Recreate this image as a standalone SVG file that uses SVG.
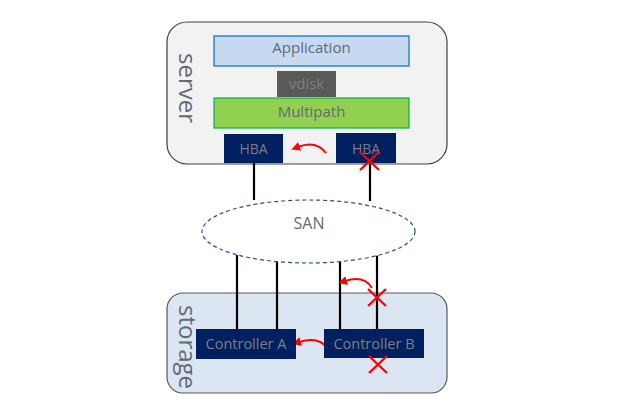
<svg xmlns="http://www.w3.org/2000/svg" width="639" height="410" viewBox="0 0 639 410">
<defs>
<marker id="ah" viewBox="0 0 10 10" refX="2" refY="5" markerWidth="4.5" markerHeight="4.5" orient="auto-start-reverse" markerUnits="strokeWidth">
<path d="M0,0 L10,5 L0,10 z" fill="#ff0000"/>
</marker>
<style>
.t{font-family:"Open Sans","Noto Sans",sans-serif;text-anchor:middle}
.lbl{fill:#5f6b75;font-size:15px}
.dim{fill:#7f7f7f}
.navy{fill:#002060}
.wire{stroke:#000;stroke-width:2.2;fill:none}
.red{stroke:#ff0000;stroke-width:2;fill:none}
.x{stroke:#ff0000;stroke-width:2.4}
.side{fill:#5f6b75;font-size:24px}
</style>
</defs>
<rect width="639" height="410" fill="#ffffff"/>
<g id="server">
<rect x="167" y="22" width="280" height="142" rx="20" fill="#f2f2f2" stroke="#404040" stroke-width="1.2"/>
<text class="t side" transform="translate(179,88) rotate(90)">server</text>
</g>
<g id="storage">
<rect x="167" y="293" width="280" height="100" rx="16" fill="#dce6f2" stroke="#595959" stroke-width="1.2"/>
<text class="t side" font-size="23" transform="translate(179,347) rotate(90)">storage</text>
</g>
<g id="connectors">
<line class="wire" x1="254" y1="163" x2="254" y2="200"/>
<line class="wire" x1="370" y1="163" x2="370" y2="201"/>
<line class="wire" x1="237" y1="255" x2="237" y2="329"/>
<line class="wire" x1="277" y1="255" x2="277" y2="329"/>
<line class="wire" x1="340" y1="255" x2="340" y2="329"/>
<line class="wire" x1="377" y1="255" x2="377" y2="329"/>
<path class="red" d="M326,153 Q316,140 298,147" marker-end="url(#ah)"/>
<path class="red" d="M372,288 Q364,275 345,281" marker-end="url(#ah)"/>
<path class="red" d="M327,348 Q319,336 299,342" marker-end="url(#ah)"/>
</g>
<g id="san">
<ellipse cx="308.5" cy="231.5" rx="106.5" ry="31.5" fill="#ffffff" stroke="#2f4f7f" stroke-width="1.2" stroke-dasharray="4,3"/>
<text class="t" x="309" y="229" font-size="16" fill="#5f6b75">SAN</text>
</g>
<g id="application">
<rect x="214" y="36" width="195" height="30" fill="#c6d9f1" stroke="#0070c0" stroke-width="1.2"/>
<text class="t lbl" x="311.5" y="53">Application</text>
</g>
<g id="vdisk">
<rect x="277" y="71" width="59" height="26" fill="#595959"/>
<text class="t dim" x="306.5" y="89" font-size="15">vdisk</text>
</g>
<g id="multipath">
<rect x="214" y="98" width="195" height="30" fill="#92d050" stroke="#00b050" stroke-width="1.2"/>
<text class="t lbl" x="311.5" y="117">Multipath</text>
</g>
<g id="hba1">
<rect class="navy" x="224" y="134" width="59" height="29"/>
<text class="t dim" x="253.5" y="154" font-size="14">HBA</text>
</g>
<g id="hba2">
<rect class="navy" x="336" y="133" width="60" height="30"/>
<text class="t dim" x="366" y="154" font-size="14">HBA</text>
<line class="x" x1="360" y1="152" x2="379" y2="170"/>
<line class="x" x1="379" y1="152" x2="360" y2="170"/>
</g>
<g id="controllerA">
<rect class="navy" x="196" y="329" width="100" height="30"/>
<text class="t dim" x="246" y="349" font-size="14.5">Controller A</text>
</g>
<g id="controllerB">
<rect class="navy" x="324" y="329" width="100" height="29"/>
<text class="t dim" x="374" y="349" font-size="14.5">Controller B</text>
</g>
<g id="failures">
<line class="x" x1="368" y1="289" x2="386" y2="306"/>
<line class="x" x1="386" y1="289" x2="368" y2="306"/>
<line class="x" x1="369" y1="356" x2="387" y2="373"/>
<line class="x" x1="387" y1="356" x2="369" y2="373"/>
</g>
</svg>
